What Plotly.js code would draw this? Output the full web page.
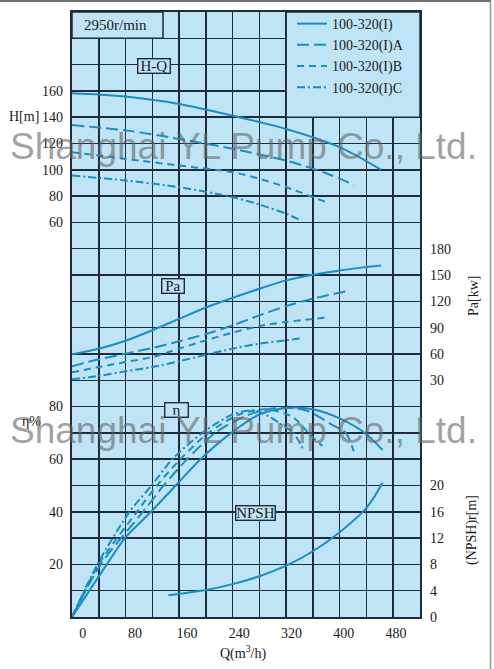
<!DOCTYPE html>
<html>
<head>
<meta charset="utf-8">
<script src="https://cdn.plot.ly/plotly-3.0.1.min.js"></script>
<style>
  html, body { margin: 0; padding: 0; background: #ffffff; }
  #chart { width: 494px; height: 669px; }
</style>
</head>
<body>
<div id="chart"></div>
<script>
// ---------------- data ----------------
const speedLabel = '2950r/min';
const seriesNames = ['100-320(I)', '100-320(I)A', '100-320(I)B', '100-320(I)C'];

// H-Q curves  (Q in m3/h, H in m)
const hqQ_I = [0, 40, 80, 160, 240, 320, 400, 462];
const hqH_I = [158.2, 157.2, 155.7, 150.1, 141.2, 131.1, 117.2, 100];
const hqQ_A = [0, 80, 160, 240, 320, 380, 421];
const hqH_A = [134, 130, 123.5, 116, 107, 97.4, 88.6];
const hqQ_B = [0, 80, 160, 240, 280, 320, 380];
const hqH_B = [113.4, 108.3, 103.3, 98.2, 93.2, 86.8, 75.4];
const hqQ_C = [0, 80, 160, 240, 280, 320, 340];
const hqH_C = [95.7, 91.9, 86.8, 79.2, 73.6, 66.6, 62.0];

// Power curves (Pa in kW)
const paQ_I = [0, 40, 80, 120, 160, 200, 240, 280, 320, 360, 400, 440, 462];
const paP_I = [59.6, 66, 75, 87, 100, 113, 124, 134.4, 143.9, 150.4, 155.3, 159.1, 161];
const paQ_A = [0, 40, 80, 120, 160, 200, 240, 280, 320, 360, 416];
const paP_A = [46, 53.9, 60.4, 66.8, 74.4, 82.7, 92.6, 104, 114.6, 123.1, 132.5];
const paQ_B = [0, 40, 80, 120, 160, 200, 240, 280, 320, 377];
const paP_B = [39, 45.1, 50.8, 56.5, 66.1, 75.5, 84.3, 91.8, 96.4, 101.4];
const paQ_C = [0, 40, 80, 120, 160, 200, 240, 280, 320, 340];
const paP_C = [31, 34.9, 40.2, 45.1, 51.6, 59.2, 66.1, 71.8, 75.5, 77.5];

// Efficiency curves (eta in %)
const etaQ_I = [0, 52, 79, 118, 155, 192, 238, 280, 320, 360, 400, 440, 464];
const etaE_I = [0, 20, 30, 40, 50, 60, 70, 77, 79.5, 79, 75.5, 69.5, 63.5];
const etaQ_A = [0, 43, 106, 137, 172, 214, 260, 305, 350, 389, 409, 421];
const etaE_A = [0, 20, 40, 50, 60, 70, 76.5, 79.5, 78.5, 73, 70, 63];
const etaQ_B = [0, 40, 97, 127, 162, 204, 250, 290, 330, 355, 374];
const etaE_B = [0, 20, 40, 50, 60, 70, 77, 79, 76, 69.5, 65];
const etaQ_C = [0, 38, 86, 119, 150, 195, 240, 275, 321, 331, 345];
const etaE_C = [0, 20, 40, 50, 60, 70, 77, 78.5, 71.8, 70, 64];

// NPSHr curve (m)
const npshQ = [144, 200, 240, 280, 320, 360, 400, 440, 464];
const npshV = [3.3, 4.1, 5.0, 6.2, 7.8, 10.0, 12.9, 16.6, 20.4];

// tick labels
const qTicks = [0, 80, 160, 240, 320, 400, 480];
const hTicks = [60, 80, 100, 120, 140, 160];
const etaTicks = [20, 40, 60, 80];
const paTicks = [30, 60, 90, 120, 150, 180];
const npshTicks = [0, 4, 8, 12, 16, 20];

// ---------------- style ----------------
const BG = '#bfe4f6';
const GRID = '#1d2b3a';
const CURVE = '#1a8dc2';
const TXT = '#1a1a1a';
const SERIF = '"Liberation Serif", "Times New Roman", serif';
const dashes = ['solid', '12px,5px', '7px,5px', '8px,3px,2px,3px'];

// plot area: x 72..420 px, y 12..617 px; paper area starts at y=2 so the legend stays inside it
const M = { l: 72, r: 74, t: 2, b: 52 };
const PLOT_TOP = 12, PLOT_BOTTOM = 617;
const W = 494 - M.l - M.r, H = 669 - M.t - M.b;
const px2x = p => (p - M.l) / W;
const py2y = p => (PLOT_BOTTOM - p) / H;
const yDomain = [0, (PLOT_BOTTOM - PLOT_TOP) / H];

const hq = [[hqQ_I, hqH_I], [hqQ_A, hqH_A], [hqQ_B, hqH_B], [hqQ_C, hqH_C]];
const pa = [[paQ_I, paP_I], [paQ_A, paP_A], [paQ_B, paP_B], [paQ_C, paP_C]];
const eta = [[etaQ_I, etaE_I], [etaQ_A, etaE_A], [etaQ_B, etaE_B], [etaQ_C, etaE_C]];

const traces = [];
// carrier trace for the main (grid) subplot
traces.push({ type: 'scatter', mode: 'markers', x: [qTicks[0]], y: [null], xaxis: 'x', yaxis: 'y',
  showlegend: false, hoverinfo: 'skip', marker: { opacity: 0 } });
function curve(xs, ys, yax, i, legend) {
  return {
    type: 'scatter', mode: 'lines', x: xs, y: ys, xaxis: 'x', yaxis: yax,
    name: seriesNames[i], showlegend: legend, legendgroup: 'g' + i,
    line: { color: CURVE, width: 2, dash: dashes[i], shape: 'spline', smoothing: 0.8 },
    hoverinfo: 'skip'
  };
}
for (let i = 0; i < 4; i++) traces.push(curve(hq[i][0], hq[i][1], 'y2', i, true));
for (let i = 0; i < 4; i++) traces.push(curve(pa[i][0], pa[i][1], 'y4', i, false));
for (let i = 0; i < 4; i++) traces.push(curve(eta[i][0], eta[i][1], 'y3', i, false));
traces.push({
  type: 'scatter', mode: 'lines', x: npshQ, y: npshV, xaxis: 'x', yaxis: 'y5',
  showlegend: false, line: { color: CURVE, width: 2, shape: 'spline', smoothing: 1 }, hoverinfo: 'skip'
});
// carrier trace for the labelled Q axis
traces.push({ type: 'scatter', mode: 'markers', x: [qTicks[0]], y: [null], xaxis: 'x2', yaxis: 'y',
  showlegend: false, hoverinfo: 'skip', marker: { opacity: 0 } });

const tickFont = { family: SERIF, size: 14, color: TXT };
const baseY = { showgrid: false, zeroline: false, ticks: '', tickfont: tickFont, fixedrange: true,
  overlaying: 'y', domain: yDomain };

const boxFont = { family: SERIF, size: 15, color: TXT };
function labelBox(text, px, py, w) {
  return { text, xref: 'paper', yref: 'paper', x: px2x(px), y: py2y(py), showarrow: false,
    xanchor: 'center', yanchor: 'middle', font: boxFont, bgcolor: BG, width: w, height: 13,
    align: 'center', valign: 'middle',
    bordercolor: GRID, borderwidth: 1.4, borderpad: 0 };
}
function plain(text, px, py, extra) {
  return Object.assign({ text, xref: 'paper', yref: 'paper', x: px2x(px), y: py2y(py), showarrow: false,
    xanchor: 'center', yanchor: 'middle', font: { family: SERIF, size: 14, color: TXT } }, extra || {});
}
const wmFont = { family: '"Liberation Sans", Arial, sans-serif', size: 37, color: 'rgba(100,100,100,0.6)' };

const layout = {
  width: 494, height: 669,
  margin: M,
  paper_bgcolor: '#ffffff', plot_bgcolor: BG,
  showlegend: true,
  legend: {
    x: px2x(292), y: py2y(8), xanchor: 'left', yanchor: 'top',
    bgcolor: 'rgba(0,0,0,0)', borderwidth: 0,
    font: { family: SERIF, size: 14, color: TXT },
    itemwidth: 30, tracegroupgap: 0
  },
  xaxis: { range: [0, 520], tick0: 0, dtick: 40, showgrid: true, gridcolor: GRID, gridwidth: 1.5,
    showticklabels: false, ticks: '', zeroline: false, showline: true, mirror: true,
    linecolor: GRID, linewidth: 1.6, fixedrange: true },
  xaxis2: { overlaying: 'x', side: 'bottom', range: [-16.4, 516.9], tickvals: qTicks,
    showgrid: false, zeroline: false, ticks: '', tickfont: tickFont, ticklabelstandoff: 6, fixedrange: true },
  yaxis: { domain: yDomain, range: [0, 23], tick0: 0, dtick: 1, showgrid: true, gridcolor: GRID, gridwidth: 1.5,
    showticklabels: false, ticks: '', zeroline: false, showline: true, mirror: true,
    linecolor: GRID, linewidth: 1.6, fixedrange: true },
  yaxis2: Object.assign({}, baseY, { side: 'left', range: [-240, 220], tickvals: hTicks, ticklabelstandoff: 8 }),
  yaxis3: Object.assign({}, baseY, { side: 'left', range: [0, 230], tickvals: etaTicks, ticklabelstandoff: 8 }),
  yaxis4: Object.assign({}, baseY, { side: 'right', range: [-240, 450], tickvals: paTicks, ticklabelstandoff: 9 }),
  yaxis5: Object.assign({}, baseY, { side: 'right', range: [0, 92], tickvals: npshTicks, ticklabelstandoff: 9 }),
  shapes: [
    // speed box (top-left) and legend box (top-right) hide the grid inside them
    { type: 'rect', xref: 'x', yref: 'y', x0: 0, x1: 136, y0: 22, y1: 23,
      fillcolor: BG, line: { color: GRID, width: 1.5 } },
    { type: 'rect', xref: 'x', yref: 'y', x0: 320, x1: 520, y0: 19, y1: 23,
      fillcolor: BG, line: { color: GRID, width: 1.5 } },
    // outer picture frame (top and right)
    { type: 'line', xref: 'paper', yref: 'paper', x0: px2x(0), x1: px2x(491), y0: py2y(1), y1: py2y(1),
      line: { color: '#444', width: 1.5 } },
    { type: 'line', xref: 'paper', yref: 'paper', x0: px2x(490.5), x1: px2x(490.5), y0: py2y(1), y1: py2y(669),
      line: { color: '#999', width: 1.5 } }
  ],
  annotations: [
    plain(speedLabel, 115, 25, { font: { family: SERIF, size: 15, color: TXT } }),
    labelBox('H-Q', 153.5, 65.7, 31),
    labelBox('Pa', 172.5, 286, 21),
    labelBox('η', 176, 409.5, 22),
    labelBox('NPSH', 255, 513, 38),
    plain('H[m]', 24, 116),
    plain('η%', 31, 422),
    plain('Pa[kw]', 473, 296, { textangle: -90 }),
    plain('(NPSH)r[m]', 472, 530, { textangle: -90 }),
    plain('Q(m<sup>3</sup>/h)', 243, 652),
    { text: 'Shanghai YL Pump Co., Ltd.', xref: 'paper', yref: 'paper', x: px2x(243), y: py2y(147),
      showarrow: false, xanchor: 'center', yanchor: 'middle', font: wmFont },
    { text: 'Shanghai YL Pump Co., Ltd.', xref: 'paper', yref: 'paper', x: px2x(243), y: py2y(431),
      showarrow: false, xanchor: 'center', yanchor: 'middle', font: wmFont }
  ]
};

Plotly.newPlot('chart', traces, layout, { displayModeBar: false, staticPlot: true });
</script>
</body>
</html>
